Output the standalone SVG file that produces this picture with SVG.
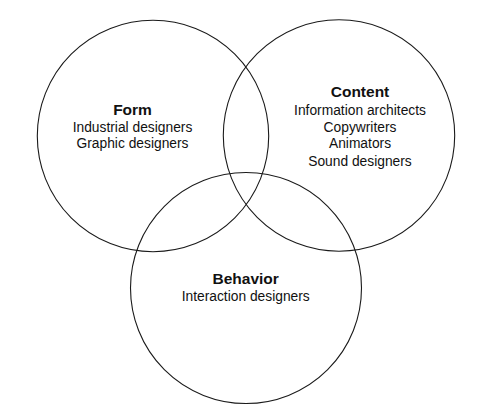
<svg xmlns="http://www.w3.org/2000/svg" width="488" height="413" viewBox="0 0 488 413">
<style>
.c{fill:none;stroke:#1a1a1a;stroke-width:1.1}
text{font-family:"Liberation Sans",Arial,sans-serif;fill:#111;text-anchor:middle}
.h{font-weight:bold;font-size:15.5px}
.t{font-size:13.8px}
</style>
<rect width="488" height="413" fill="#fff"/>
<g id="form"><circle class="c" cx="153" cy="136" r="115.7"/>
<text class="h" x="132.5" y="115">Form</text>
<text class="t" x="132.5" y="131.7">Industrial designers</text>
<text class="t" x="132.5" y="148.3">Graphic designers</text></g>
<g id="content"><circle class="c" cx="339" cy="135.5" r="115.7"/>
<text class="h" x="360" y="97.3">Content</text>
<text class="t" x="360" y="115">Information architects</text>
<text class="t" x="360" y="131.7">Copywriters</text>
<text class="t" x="360" y="148.3">Animators</text>
<text class="t" x="360" y="165.7">Sound designers</text></g>
<g id="behavior"><circle class="c" cx="246" cy="288" r="115.5"/>
<text class="h" x="245.7" y="284">Behavior</text>
<text class="t" x="245.7" y="300.7">Interaction designers</text></g>
<g id="connectors"></g>
</svg>
